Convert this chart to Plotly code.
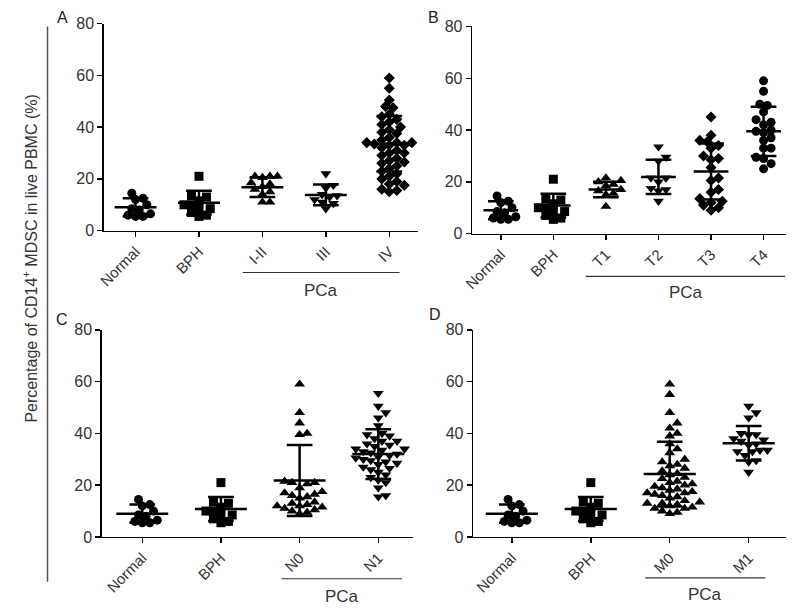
import plotly.graph_objects as go

# ---------------- data ----------------
normal_vals = [12.5, 12.0, 14.5, 8.5, 10.0, 6.5, 5.5, 5.5, 6.0, 8.0]
bph_vals = [21, 13.5, 13, 11.5, 10, 10, 8.5, 8.5, 7, 6, 5.5]

a_cats = ["Normal", "BPH", "I-II", "III", "IV"]
a_i_ii = [21, 21, 20.5, 21, 18.5, 18, 17, 16, 14, 15, 11, 11]
a_iii = [22, 17.5, 16.5, 14, 13.5, 13, 12, 11, 10.5, 8.5]
a_iv = [59, 55, 50.5, 48, 47.5, 45, 44, 43, 42, 41, 40, 39, 38, 37.5, 36, 35, 35,
        34, 34, 34, 33.5, 33, 33, 32, 31, 30, 30, 29, 28, 27, 26.5, 26, 25, 24, 23,
        22, 21, 20, 19, 17.5, 16, 15, 15.5, 18]
a_means = [9.0, 10.8, 16.8, 13.8, 33.6]
a_sds = [3.5, 4.6, 3.8, 4.0, 10.7]

b_cats = ["Normal", "BPH", "T1", "T2", "T3", "T4"]
b_t1 = [21.5, 20.5, 20, 19, 18.5, 17, 16.5, 15.5, 15, 10.5]
b_t2 = [33.5, 29.5, 28, 21.5, 21.5, 20, 17.5, 17, 16.5, 12.5]
b_t3 = [45, 38, 36, 35.5, 34, 33, 30, 29, 28.5, 25.5, 21.5, 20.5, 17, 16, 13.5,
        12.5, 12, 11, 10, 9]
b_t4 = [59, 55, 50, 49.5, 47, 44, 43, 42, 40, 39.5, 39, 37, 36, 33, 33, 29.5, 29,
        27, 25]
b_means = [9.0, 10.8, 17.0, 21.9, 24.0, 39.5]
b_sds = [3.5, 4.6, 3.0, 6.6, 10.8, 9.5]

c_cats = ["Normal", "BPH", "N0", "N1"]
c_n0 = [59, 48, 44, 40, 39.5, 21.5, 21, 21, 20.5, 19, 17.5, 17, 16.5, 16, 15.5, 15,
        13.5, 13, 12.5, 12, 12, 11.5, 11, 10.5, 10, 9.5, 9]
c_n1 = [55.5, 50.5, 48, 46, 43, 40, 39.5, 39, 38, 37, 37, 36, 35.5, 35, 34, 34, 33.5,
        33, 32.5, 32, 31.5, 31, 30.5, 30, 29.5, 29, 28.5, 28, 27, 26.5, 26, 25, 24,
        23, 22, 21, 19, 16, 15.5]
c_means = [9.0, 10.8, 21.8, 32.0]
c_sds = [3.5, 4.6, 13.7, 9.6]

d_cats = ["Normal", "BPH", "M0", "M1"]
d_m0 = [59, 55, 48, 44, 42, 40, 39, 36, 34, 32.5, 30, 29, 28, 27.5, 26.5, 25.5, 24.5,
        24, 23, 22.5, 21.5, 21, 20.5, 20, 19.5, 19, 18.5, 18, 17.5, 17, 17, 16.5, 16,
        15.5, 15, 14, 13.5, 13, 13, 12.5, 12, 11.5, 11, 11, 10, 9.5, 9]
d_m1 = [50.5, 48, 46, 40, 39.5, 39.5, 38, 37.5, 37, 36, 35.5, 33.5, 33.5, 33, 33,
        31.5, 29.5, 29, 25]
d_means = [9.0, 10.8, 24.3, 36.2]
d_sds = [3.5, 4.6, 12.5, 6.7]

y_ticks = [0, 20, 40, 60, 80]
y_title = "Percentage of CD14<sup>+</sup> MDSC in live PBMC (%)"
group_label = "PCa"

# ---------------- panel geometry (target pixels in 800x615 picture) ----------------
W, H = 800, 615


def px_x(px):
    return px / W


def px_y(py):
    return 1 - py / H


panels = [
    dict(name="A", cats=a_cats, groups=[normal_vals, bph_vals, a_i_ii, a_iii, a_iv],
         symbols=["circle", "square", "triangle-up", "triangle-down", "diamond"],
         means=a_means, sds=a_sds, x0=95, x1=413, yb=229, yt=16,
         xr=[-0.5, 4.45], pca=(1.69, 4.16), pca_y=272, pca_ty=291, letter=(53, 10)),
    dict(name="B", cats=b_cats, groups=[normal_vals, bph_vals, b_t1, b_t2, b_t3, b_t4],
         symbols=["circle", "square", "triangle-up", "triangle-down", "diamond", "circle"],
         means=b_means, sds=b_sds, x0=468, x1=786, yb=232, yt=19,
         xr=[-0.545, 5.43], pca=(1.62, 5.41), pca_y=276, pca_ty=293, letter=(429, 10)),
    dict(name="C", cats=c_cats, groups=[normal_vals, bph_vals, c_n0, c_n1],
         symbols=["circle", "square", "triangle-up", "triangle-down"],
         means=c_means, sds=c_sds, x0=93, x1=408, yb=544, yt=331,
         xr=[-0.514, 3.44], pca=(1.77, 3.3), pca_y=587, pca_ty=605, letter=(53, 320)),
    dict(name="D", cats=d_cats, groups=[normal_vals, bph_vals, d_m0, d_m1],
         symbols=["circle", "square", "triangle-up", "triangle-down"],
         means=d_means, sds=d_sds, x0=469, x1=786, yb=544, yt=331,
         xr=[-0.49, 3.475], pca=(1.69, 3.21), pca_y=586, pca_ty=603, letter=(430, 315)),
]


def swarm(vals, px_per_y, px_per_x, dia):
    """Simple beeswarm layout: returns horizontal offsets (category units)."""
    order = sorted(range(len(vals)), key=lambda i: vals[i])
    placed = []
    offs = [0.0] * len(vals)
    step = dia * 0.5
    cands = [0.0]
    for j in range(1, 60):
        cands += [step * j, -step * j]
    for i in order:
        y = vals[i] * px_per_y
        for c in cands:
            if all((c - px) ** 2 + (y - py) ** 2 >= dia ** 2 for px, py in placed):
                break
        placed.append((c, y))
        offs[i] = c / px_per_x
    return offs


FONT = "Arial, Liberation Sans, sans-serif"
fig = go.Figure()
ytick_font = dict(family=FONT, size=16, color="#333333")
xtick_font = dict(family=FONT, size=15, color="#333333")
msize = {"circle": 9, "square": 9, "diamond": 8.5, "triangle-up": 9.5, "triangle-down": 9.5}

for k, p in enumerate(panels):
    n = k + 1
    xa = "x" if n == 1 else f"x{n}"
    ya = "y" if n == 1 else f"y{n}"
    ncat = len(p["cats"])
    px_per_x = (p["x1"] - p["x0"]) / (p["xr"][1] - p["xr"][0])
    px_per_y = (p["yb"] - p["yt"]) / 80.0
    for gi, (vals, sym) in enumerate(zip(p["groups"], p["symbols"])):
        offs = swarm(vals, px_per_y, px_per_x, 7.6)
        fig.add_trace(go.Scatter(
            x=[gi + o for o in offs], y=vals, mode="markers", xaxis=xa, yaxis=ya,
            marker=dict(symbol=sym, size=msize[sym], color="black", line=dict(width=0)),
            showlegend=False, cliponaxis=False, hoverinfo="y"))
    # mean +/- SD lines
    xs, ys = [], []
    mw = 0.33
    cw = 13.0 / px_per_x
    for gi in range(ncat):
        m, s = p["means"][gi], p["sds"][gi]
        xs += [gi - mw, gi + mw, None, gi, gi, None,
               gi - cw, gi + cw, None, gi - cw, gi + cw, None]
        ys += [m, m, None, m - s, m + s, None,
               m + s, m + s, None, m - s, m - s, None]
    fig.add_trace(go.Scatter(x=xs, y=ys, mode="lines", xaxis=xa, yaxis=ya,
                             line=dict(color="black", width=2.5), showlegend=False,
                             cliponaxis=False, hoverinfo="skip"))

    xdom = [px_x(p["x0"]), px_x(p["x1"])]
    ydom = [px_y(p["yb"]), px_y(p["yt"])]
    fig.update_layout(**{
        ("xaxis" if n == 1 else f"xaxis{n}"): dict(
            domain=xdom, anchor=ya, range=p["xr"], tickmode="array",
            tickvals=list(range(ncat)), ticktext=p["cats"], tickangle=-45,
            showline=True, linecolor="black", linewidth=1.5, ticks="outside",
            ticklen=5, tickwidth=1.5, tickcolor="black", showgrid=False,
            zeroline=False, tickfont=xtick_font),
        ("yaxis" if n == 1 else f"yaxis{n}"): dict(
            domain=ydom, anchor=xa, range=[0, 80], tickmode="array",
            tickvals=y_ticks, showline=True, linecolor="black", linewidth=1.5,
            ticks="outside", ticklen=5, tickwidth=1.5, tickcolor="black",
            showgrid=False, zeroline=False, tickfont=ytick_font),
    })
    # PCa bracket line and label
    fig.add_shape(type="line", xref=xa, yref="paper",
                  x0=p["pca"][0], x1=p["pca"][1],
                  y0=px_y(p["pca_y"]), y1=px_y(p["pca_y"]),
                  line=dict(color="#333333", width=1.2))
    fig.add_annotation(xref=xa, yref="paper", x=(p["pca"][0] + p["pca"][1]) / 2,
                       y=px_y(p["pca_ty"]), text=group_label, showarrow=False,
                       font=dict(family=FONT, size=17, color="#333333"),
                       xanchor="center", yanchor="middle")
    # panel letter
    fig.add_annotation(xref="paper", yref="paper", x=px_x(p["letter"][0]),
                       y=px_y(p["letter"][1]), text=p["name"], showarrow=False,
                       font=dict(family=FONT, size=16, color="#222222"),
                       xanchor="center", yanchor="middle")

# y axis title and vertical rule
fig.add_annotation(xref="paper", yref="paper", x=px_x(20), y=px_y(258), text=y_title,
                   textangle=-90, showarrow=False,
                   font=dict(family=FONT, size=16, color="#333333"),
                   xanchor="center", yanchor="middle")
fig.add_shape(type="line", xref="paper", yref="paper", x0=px_x(38), x1=px_x(38),
              y0=px_y(19), y1=px_y(590), line=dict(color="#555555", width=1.5))

fig.update_layout(width=W, height=H, margin=dict(l=0, r=0, t=0, b=0),
                  paper_bgcolor="white", plot_bgcolor="white", showlegend=False)

fig.write_html(
    "out.html",
    config={"displayModeBar": False, "staticPlot": True},
    post_script="document.body.style.margin='0';"
                "document.documentElement.style.overflow='hidden';"
                "document.body.style.overflow='hidden';")
